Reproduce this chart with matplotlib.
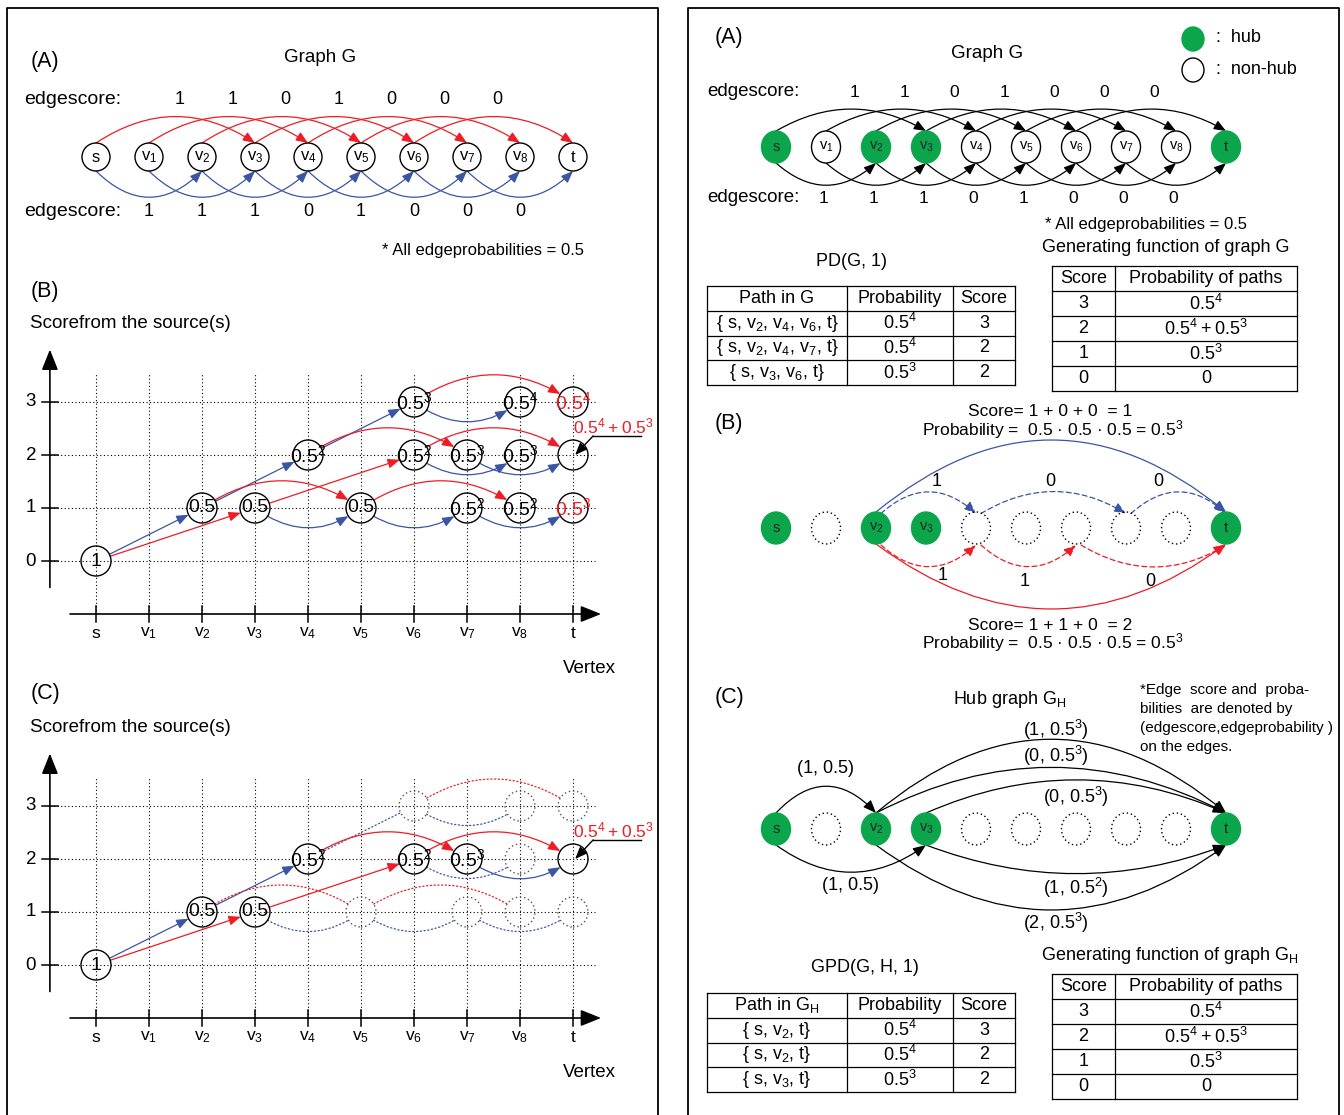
import matplotlib
matplotlib.use('Agg')
import matplotlib.pyplot as plt
from matplotlib.patches import FancyArrowPatch, Circle, Ellipse

plt.rcParams['font.family'] = ['Liberation Sans', 'DejaVu Sans']
plt.rcParams['mathtext.default'] = 'regular'

# ========================= DATA =========================
vertices = ['s', 'v1', 'v2', 'v3', 'v4', 'v5', 'v6', 'v7', 'v8', 't']
hubs = ['s', 'v2', 'v3', 't']
red_edge_scores = [1, 1, 0, 1, 0, 0, 0]        # edges v_i -> v_(i+3)
blue_edge_scores = [1, 1, 1, 0, 1, 0, 0, 0]    # edges v_i -> v_(i+2)
score_levels = [0, 1, 2, 3]

# score-from-source nodes (vertex, score, exponent of 0.5 ; -1 = no label)
dp_node_vertex = ['s', 'v2', 'v3', 'v4', 'v5', 'v6', 'v6', 'v7', 'v7', 'v8', 'v8', 'v8', 't', 't', 't']
dp_node_score = [0, 1, 1, 2, 1, 3, 2, 2, 1, 3, 2, 1, 3, 2, 1]
dp_node_exp = [0, 1, 1, 2, 1, 3, 2, 3, 2, 4, 3, 2, 4, -1, 3]
# transitions (from vertex, score at source, to vertex)
dp_edge_from = ['s', 's', 'v2', 'v2', 'v3', 'v3', 'v4', 'v4', 'v5', 'v5', 'v6', 'v6', 'v6', 'v6', 'v7', 'v7']
dp_edge_level = [0, 0, 1, 1, 1, 1, 2, 2, 1, 1, 3, 3, 2, 2, 2, 1]
dp_edge_to = ['v2', 'v3', 'v4', 'v5', 'v5', 'v6', 'v6', 'v7', 'v7', 'v8', 'v8', 't', 'v8', 't', 't', 't']
target_total = '$0.5^4 + 0.5^3$'
sel_node_vertex = ['s', 'v2', 'v3', 'v4', 'v6', 'v7', 't']
sel_node_score = [0, 1, 1, 2, 2, 2, 2]

pd_paths = [['s', 'v2', 'v4', 'v6', 't'], ['s', 'v2', 'v4', 'v7', 't'], ['s', 'v3', 'v6', 't']]
pd_prob_exp = [4, 4, 3]
pd_scores = [3, 2, 2]
gf_scores = [3, 2, 1, 0]
gf_probs = ['$0.5^4$', '$0.5^4 + 0.5^3$', '$0.5^3$', '0']

path_blue = ['v2', 'v4', 'v7', 't']
path_red = ['v2', 'v4', 'v6', 't']

hub_edge_from = ['s', 's', 'v2', 'v2', 'v3', 'v3', 'v2']
hub_edge_to = ['v2', 'v3', 't', 't', 't', 't', 't']
hub_edge_score = [1, 1, 1, 0, 0, 1, 2]
hub_edge_exp = [1, 1, 3, 3, 3, 2, 3]

gpd_paths = [['s', 'v2', 't'], ['s', 'v2', 't'], ['s', 'v3', 't']]
gpd_prob_exp = [4, 4, 3]
gpd_scores = [3, 2, 2]
gfh_scores = [3, 2, 1, 0]
gfh_probs = ['$0.5^4$', '$0.5^4 + 0.5^3$', '$0.5^3$', '0']

# ========================= STYLE / LAYOUT =========================
W, H = 1344, 1115
RED = '#ee1c24'
BLUE = '#3a55a4'
GREEN = '#0ba64c'
FS = 13.5
PT = 0.72  # points per pixel at dpi 100

fig = plt.figure(figsize=(W / 100, H / 100), dpi=100)

axP = fig.add_axes([0, 0, 1, 1], label='page')
axP.set_xlim(0, W)
axP.set_ylim(H, 0)
axP.axis('off')

_n = [0]


def overlay(ox, oy, unit):
    _n[0] += 1
    ax = fig.add_axes([0, 0, 1, 1], label=f'ov{_n[0]}', facecolor='none')
    ax.set_xlim(-ox / unit, (W - ox) / unit)
    ax.set_ylim(-(H - oy) / unit, oy / unit)
    ax.axis('off')
    return ax


def T(x, y, s, fs=FS, ha='center', va='center', color='k', ax=axP, **kw):
    ax.text(x, y, s, fontsize=fs, ha=ha, va=va, color=color, clip_on=False, **kw)


def vtex(v):
    return v if len(v) == 1 else f'${v[0]}_{{{v[1:]}}}$'


def p05(e):
    return '1' if e == 0 else ('0.5' if e == 1 else f'$0.5^{e}$')


vidx = {v: i for i, v in enumerate(vertices)}


def edge_score(a, b):
    d = b - a
    return blue_edge_scores[a] if d == 2 else red_edge_scores[a]


def arrow(ax, p, q, color, rad=0.0, ls='-', head=True, shrink=0.0, lw=0.9, z=3, ms=12):
    style = '-|>,head_length=0.6,head_width=0.24' if head else '-'
    ax.add_patch(FancyArrowPatch(p, q, connectionstyle=f'arc3,rad={rad}', arrowstyle=style,
                                 mutation_scale=ms, color=color, lw=lw, linestyle=ls,
                                 shrinkA=shrink, shrinkB=shrink, zorder=z))


# panel borders
for xl, xr in [(7, 658), (688, 1339)]:
    axP.plot([xl, xl, xr, xr], [H + 5, 7.5, 7.5, H + 5], color='k', lw=1.3, clip_on=False)

# ========================= LEFT (A) =========================
T(45, 62, '(A)', fs=15.5)
T(320, 58, 'Graph G')
T(24, 99, 'edgescore:', ha='left', fs=14)
T(24, 211, 'edgescore:', ha='left', fs=14)
T(382, 251, '* All edgeprobabilities = 0.5', ha='left', fs=12)

axA = overlay(96, 157, 53)
R = 14 / 53
for i, v in enumerate(vertices):
    axA.add_patch(Circle((i, 0), R, fill=False, ec='k', lw=1, zorder=4))
    T(i, 0, vtex(v), fs=12, ax=axA)
for i, sc in enumerate(red_edge_scores):
    arrow(axA, (i, R), (i + 3, R), RED, rad=-0.33)
    T(i + 1.5 + 0.08, (157 - 99) / 53, str(sc), fs=13, ax=axA)
for i, sc in enumerate(blue_edge_scores):
    arrow(axA, (i, -R), (i + 2, -R), BLUE, rad=0.49)
    T(i + 1, (157 - 211) / 53, str(sc), fs=13, ax=axA)


# ========================= LEFT (B) & (C) =========================
def score_chart(oy, selected):
    ax = overlay(96, oy, 53)
    r = 15 / 53
    grid = dict(color='k', lw=0.8, ls=(0, (1, 2.2)), zorder=1)
    for i in range(len(vertices)):
        ax.plot([i, i], [-1, 3.55], **grid)
    for s in score_levels:
        ax.plot([-0.87, 9.42], [s, s], **grid)
        ax.plot([-1.02, -0.72], [s, s], color='k', lw=1.1)
        T(-1.23, s, str(s), ax=ax)
    big = '-|>,head_length=1.25,head_width=0.5'
    ax.add_patch(FancyArrowPatch((-0.87, -0.5), (-0.87, 3.99), arrowstyle=big, mutation_scale=10,
                                 color='k', lw=1.2, shrinkA=0, shrinkB=0))
    ax.add_patch(FancyArrowPatch((-0.49, -1), (9.53, -1), arrowstyle=big, mutation_scale=10,
                                 color='k', lw=1.2, shrinkA=0, shrinkB=0))
    for i, v in enumerate(vertices):
        ax.plot([i, i], [-1.16, -0.84], color='k', lw=1.1)
        T(i, -1.36, vtex(v), fs=12.5, ax=ax)
    T((589 - 96) / 53, -2.02, 'Vertex', ax=ax)

    sel = None if not selected else set(zip(sel_node_vertex, sel_node_score))
    for v, s, e in zip(dp_node_vertex, dp_node_score, dp_node_exp):
        i = vidx[v]
        on = sel is None or (v, s) in sel
        if on:
            ax.add_patch(Circle((i, s), r, fill=False, ec='k', lw=1, zorder=4))
            if e >= 0:
                T(i, s, p05(e), fs=14, color=RED if v == 't' else 'k', ax=ax, zorder=5)
        else:
            ax.add_patch(Circle((i, s), r, fill=False, ec='#555555', lw=1, ls=(0, (1, 2)), zorder=4))
    for a, s0, b in zip(dp_edge_from, dp_edge_level, dp_edge_to):
        ia, ib = vidx[a], vidx[b]
        sc = edge_score(ia, ib)
        col = BLUE if ib - ia == 2 else RED
        s1 = s0 + sc
        rad = 0 if sc else (0.37 if col == BLUE else -0.34)
        on = sel is None or ((a, s0) in sel and (b, s1) in sel)
        arrow(ax, (ia, s0), (ib, s1), col, rad=rad, shrink=15 * PT,
              ls='-' if on else (0, (1, 2)), head=on)
    # annotation of the target node
    it = vidx['t']
    ax.plot([it + 0.38, it + 1.28], [2.36, 2.36], color='k', lw=1)
    ax.annotate('', xy=(it + 0.04, 2.0), xytext=(it + 0.38, 2.36),
                arrowprops=dict(arrowstyle='-|>,head_length=0.6,head_width=0.24', mutation_scale=12,
                                color='k', lw=1, shrinkA=0, shrinkB=0))
    T(it + 0.77, 2.54, target_total, fs=12.5, color=RED, ax=ax)


T(45, 291, '(B)', fs=15.5)
T(30, 323, 'Scorefrom the source(s)', ha='left')
score_chart(561, False)

T(45, 693, '(C)', fs=15.5)
T(30, 727, 'Scorefrom the source(s)', ha='left')
score_chart(965, True)

# ========================= RIGHT (A) =========================
T(729, 38, '(A)', fs=15.5)
T(987, 54, 'Graph G')
axP.add_patch(Ellipse((1193, 39), 22, 24, fc=GREEN, ec=GREEN))
axP.add_patch(Ellipse((1193, 70), 22, 24, fc='white', ec='k', lw=1))
T(1216, 38, ':  hub', ha='left', fs=13)
T(1216, 69, ':  non-hub', ha='left', fs=13)
T(707, 92, 'edgescore:', ha='left', fs=13.5)
T(707, 198, 'edgescore:', ha='left', fs=13.5)
T(1045, 224, '* All edgeprobabilities = 0.5', ha='left', fs=12)

EW, EH = 29 / 50, 32 / 50


def hub_nodes(ax, dotted_nonhub):
    for i, v in enumerate(vertices):
        if v in hubs:
            ax.add_patch(Ellipse((i, 0), EW, EH, fc=GREEN, ec=GREEN, lw=1, zorder=4))
            T(i, 0, vtex(v), fs=10.5, ax=ax, color='#222222', zorder=5)
        elif dotted_nonhub:
            ax.add_patch(Ellipse((i, 0), EW, EH, fill=False, ec='k', lw=1, ls=(0, (1, 2)), zorder=4))
        else:
            ax.add_patch(Ellipse((i, 0), EW, EH, fc='white', ec='k', lw=1, zorder=4))
            T(i, 0, vtex(v), fs=10.5, ax=ax, zorder=5)


axRA = overlay(776, 147, 50)
hub_nodes(axRA, False)
for i, sc in enumerate(red_edge_scores):
    arrow(axRA, (i, EH / 2), (i + 3, EH / 2), 'k', rad=-0.29)
    T(i + 1.5 + 0.07, (147 - 92) / 50, str(sc), fs=12.5, ax=axRA)
for i, sc in enumerate(blue_edge_scores):
    arrow(axRA, (i, -EH / 2), (i + 2, -EH / 2), 'k', rad=0.44)
    T(i + 1 - 0.05, (147 - 198) / 50, str(sc), fs=12.5, ax=axRA)


# tables
def table(x_edges, y_top, row_h, rows, fs=13):
    n = len(rows)
    for k in range(n + 1):
        y = y_top + k * row_h
        axP.plot([x_edges[0], x_edges[-1]], [y, y], color='k', lw=0.9)
    for x in x_edges:
        axP.plot([x, x], [y_top, y_top + n * row_h], color='k', lw=0.9)
    for r_, row in enumerate(rows):
        for c, txt in enumerate(row):
            T((x_edges[c] + x_edges[c + 1]) / 2, y_top + (r_ + 0.5) * row_h, txt, fs=fs)


def path_text(p):
    return '{ ' + ', '.join(vtex(v) for v in p) + '}'


T(852, 261, 'PD(G, 1)', fs=13)
table([707, 847, 953, 1015], 286, 24.75,
      [['Path in G', 'Probability', 'Score']] +
      [[path_text(p), p05(e), str(s)] for p, e, s in zip(pd_paths, pd_prob_exp, pd_scores)])
T(1166, 248, 'Generating function of graph G', fs=13)
table([1052, 1115, 1297], 266, 25,
      [['Score', 'Probability of paths']] + [[str(s), pr] for s, pr in zip(gf_scores, gf_probs)])

# ========================= RIGHT (B) =========================
T(729, 424, '(B)', fs=15.5)
axRB = overlay(776, 528, 50)
hub_nodes(axRB, True)


def path_info(p):
    idx = [vidx[v] for v in p]
    scs = [edge_score(a, b) for a, b in zip(idx[:-1], idx[1:])]
    return idx, scs


bidx, bsc = path_info(path_blue)
ridx, rsc = path_info(path_red)
arrow(axRB, (bidx[0], EH / 2), (bidx[-1], EH / 2), BLUE, rad=-0.41)
arrow(axRB, (ridx[0], -EH / 2), (ridx[-1], -EH / 2), RED, rad=0.37)
blue_lab_dx = [0.22, -0.02, -0.36]
red_lab_dx = [0.34, -0.02, -0.02]
red_lab_y = [-0.94, -1.08, -1.06]
for k, (a, b) in enumerate(zip(bidx[:-1], bidx[1:])):
    arrow(axRB, (a + 0.1, EH / 2 - 0.03), (b, EH / 2 - 0.03), BLUE, rad=-0.9 / (b - a), ls=(0, (4, 2.5)))
    T((a + b) / 2 + blue_lab_dx[k], 0.92, str(bsc[k]), fs=13, ax=axRB)
for k, (a, b) in enumerate(zip(ridx[:-1], ridx[1:])):
    arrow(axRB, (a + 0.1, -EH / 2 - 0.02), (b, -EH / 2 - 0.02), RED, rad=0.9 / (b - a), ls=(0, (4, 2.5)))
    T((a + b) / 2 + red_lab_dx[k], red_lab_y[k], str(rsc[k]), fs=13, ax=axRB)

T(1050, 411, 'Score= ' + ' + '.join(str(s) for s in bsc) + '  = ' + str(sum(bsc)), fs=12.5)
T(1053, 430, 'Probability =  ' + ' · '.join(['0.5'] * len(bsc)) + f' = $0.5^{len(bsc)}$', fs=12.5)
T(1050, 625, 'Score= ' + ' + '.join(str(s) for s in rsc) + '  = ' + str(sum(rsc)), fs=12.5)
T(1053, 643, 'Probability =  ' + ' · '.join(['0.5'] * len(rsc)) + f' = $0.5^{len(rsc)}$', fs=12.5)

# ========================= RIGHT (C) =========================
T(729, 697, '(C)', fs=15.5)
T(1010, 699, 'Hub graph $G_H$', fs=13)
note = ['*Edge  score and  proba-', 'bilities  are denoted by', '(edgescore,edgeprobability )', 'on the edges.']
for k, line in enumerate(note):
    T(1140, 690 + k * 19, line, ha='left', fs=11)

axRC = overlay(776, 829, 50)
hub_nodes(axRC, True)
hub_rad = [-0.53, 0.36, -0.42, -0.26, -0.22, 0.19, 0.37]
hub_lab_dy = [-18, 14, -10, -12, 17, 14, 13]
for a, b, sc, e, rad, dy in zip(hub_edge_from, hub_edge_to, hub_edge_score, hub_edge_exp, hub_rad, hub_lab_dy):
    ia, ib = vidx[a], vidx[b]
    y0 = EH / 2 if rad < 0 else -EH / 2
    arrow(axRC, (ia, y0), (ib, y0), 'k', rad=rad, ms=13)
    peak = y0 - rad * (ib - ia) / 2
    lab = f'({sc}, 0.5)' if e == 1 else f'({sc}, $0.5^{e}$)'
    T((ia + ib) / 2 + (0.1 if ib - ia > 6 else 0), peak - dy / 50, lab, fs=13, ax=axRC)

T(865, 968, 'GPD(G, H, 1)', fs=13)
table([707, 847, 953, 1015], 993, 24.75,
      [['Path in $G_H$', 'Probability', 'Score']] +
      [[path_text(p), p05(e), str(s)] for p, e, s in zip(gpd_paths, gpd_prob_exp, gpd_scores)])
T(1170, 955, 'Generating function of graph $G_H$', fs=13)
table([1052, 1115, 1297], 974, 25,
      [['Score', 'Probability of paths']] + [[str(s), pr] for s, pr in zip(gfh_scores, gfh_probs)])

fig.savefig('out.png', dpi=100)
